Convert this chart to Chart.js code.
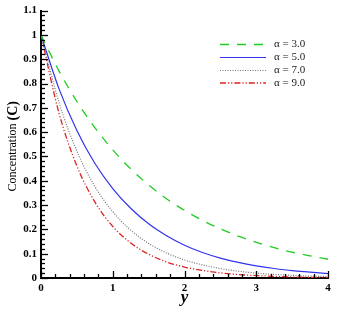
<!DOCTYPE html>
<html>
<head>
<meta charset="utf-8">
<script src="https://cdn.jsdelivr.net/npm/chart.js@4.4.1/dist/chart.umd.min.js"></script>
<style>
html,body{margin:0;padding:0;background:#fff;}
#wrap{width:337px;height:311px;}
</style>
</head>
<body>
<div id="wrap"><canvas id="c" width="337" height="311"></canvas></div>
<script>
const yPositions = [0,0.25,0.5,0.75,1,1.25,1.5,1.75,2,2.25,2.5,2.75,3,3.25,3.5,3.75,4];
const alpha3 = [1,0.852,0.726,0.619,0.527,0.449,0.383,0.326,0.278,0.237,0.202,0.172,0.147,0.125,0.106,0.091,0.077];
const alpha5 = [1,0.779,0.607,0.472,0.368,0.287,0.223,0.174,0.135,0.105,0.082,0.064,0.050,0.039,0.030,0.024,0.018];
const alpha7 = [1,0.723,0.522,0.377,0.273,0.197,0.142,0.103,0.074,0.054,0.039,0.028,0.020,0.015,0.011,0.008,0.006];
const alpha9 = [1,0.679,0.461,0.313,0.212,0.144,0.098,0.066,0.045,0.031,0.021,0.014,0.010,0.007,0.004,0.003,0.002];
const seriesLabels = ['\u03b1 = 3.0','\u03b1 = 5.0','\u03b1 = 7.0','\u03b1 = 9.0'];
const xTickLabels = ['0','1','2','3','4'];
const yTickLabels = ['0','0.1','0.2','0.3','0.4','0.5','0.6','0.7','0.8','0.9','1','1.1'];

const toPts = arr => arr.map((v,i)=>({x:yPositions[i], y:v}));
const styles = [
  {color:'#22cc22', dash:[9,8], width:1.3},
  {color:'#3333ee', dash:[], width:1.2},
  {color:'#777777', dash:[1,1.5], width:1.2},
  {color:'#dd2222', dash:[6,2,1.2,2,1.2,2], width:1.3}
];
const allSeries = [alpha3, alpha5, alpha7, alpha9];

const serif = "'Liberation Serif','Times New Roman',serif";

const minorTicks = {
  id:'minorTicks',
  afterDraw(chart){
    const ctx = chart.ctx, xs = chart.scales.x, ys = chart.scales.y;
    const ca = chart.chartArea;
    ctx.save();
    ctx.strokeStyle = '#000';
    ctx.lineWidth = 1.3;
    // x ticks
    for (let i=0;i<=20;i++){
      const v = i*0.2;
      const px = Math.round(xs.getPixelForValue(v))+0.5;
      const len = (i%5===0)?7:4;
      ctx.beginPath(); ctx.moveTo(px, ca.bottom); ctx.lineTo(px, ca.bottom-len); ctx.stroke();
    }
    for (let i=0;i<=55;i++){
      const v = i*0.02;
      const py = Math.round(ys.getPixelForValue(v))+0.5;
      const len = (i%5===0)?7:4;
      ctx.beginPath(); ctx.moveTo(ca.left, py); ctx.lineTo(ca.left+len, py); ctx.stroke();
    }
    ctx.restore();
  }
};

const customLegend = {
  id:'customLegend',
  afterDraw(chart){
    const ctx = chart.ctx;
    const xs = chart.scales.x, ys = chart.scales.y;
    ctx.save();
    const x0 = 220, x1 = 266, tx = 274;
    const ys0 = [44.5, 57.5, 70.5, 83];
    chart.data.datasets.forEach((ds,i)=>{
      const y = ys0[i];
      ctx.strokeStyle = ds.borderColor;
      ctx.lineWidth = ds.borderWidth;
      ctx.setLineDash(ds.borderDash||[]);
      ctx.beginPath(); ctx.moveTo(x0,y); ctx.lineTo(x1,y); ctx.stroke();
      ctx.setLineDash([]);
      ctx.fillStyle = '#222';
      ctx.font = "11px " + serif;
      ctx.textBaseline = 'middle';
      ctx.textAlign = 'left';
      ctx.fillText(ds.label, tx, y);
    });
    ctx.restore();
  }
};

const yTitle = {
  id:'yTitle',
  afterDraw(chart){
    const ctx = chart.ctx, ca = chart.chartArea;
    ctx.save();
    ctx.translate(13, (ca.top+ca.bottom)/2 + 2);
    ctx.rotate(-Math.PI/2);
    ctx.fillStyle = '#000';
    ctx.textBaseline = 'middle';
    ctx.font = "12px " + serif;
    const t1 = 'Concentration ';
    ctx.font = "bold 14px " + serif;
    const t2 = '(C)';
    const w2 = ctx.measureText(t2).width;
    ctx.font = "12px " + serif;
    const w1 = ctx.measureText(t1).width;
    const start = -(w1+w2)/2;
    ctx.textAlign = 'left';
    ctx.fillText(t1, start, 0);
    ctx.font = "bold 14px " + serif;
    ctx.fillText(t2, start+w1, 0);
    ctx.restore();
  }
};

new Chart(document.getElementById('c'), {
  type:'line',
  data:{
    datasets: allSeries.map((arr,i)=>({
      label: seriesLabels[i],
      data: toPts(arr),
      borderColor: styles[i].color,
      borderDash: styles[i].dash,
      borderWidth: styles[i].width,
      pointRadius:0,
      fill:false,
      cubicInterpolationMode:'monotone'
    }))
  },
  options:{
    responsive:false,
    animation:false,
    devicePixelRatio:1,
    layout:{padding:{left:0,right:9,top:9,bottom:0}},
    plugins:{legend:{display:false}, tooltip:{enabled:false}},
    scales:{
      x:{
        type:'linear', min:0, max:4,
        grid:{display:false, drawTicks:false},
        border:{display:true, color:'#000', width:2},
        ticks:{stepSize:1, padding:4, color:'#000', font:{family:serif, size:11, weight:'bold'},
          callback:(v)=> xTickLabels[Math.round(v)] ?? ''},
        title:{display:true, text:'y', color:'#000', font:{family:serif, size:17, weight:'bold', style:'italic'}, padding:{top:0,bottom:3}},
        afterFit(s){ s.height = 33; }
      },
      y:{
        type:'linear', min:0, max:1.1,
        grid:{display:false, drawTicks:false},
        border:{display:true, color:'#000', width:2},
        ticks:{stepSize:0.1, padding:4, color:'#000', font:{family:serif, size:11, weight:'bold'},
          callback:(v)=> yTickLabels[Math.round(v*10)] ?? ''},
        afterFit(s){ s.width = 41; }
      }
    }
  },
  plugins:[minorTicks, customLegend, yTitle]
});
</script>
</body>
</html>
